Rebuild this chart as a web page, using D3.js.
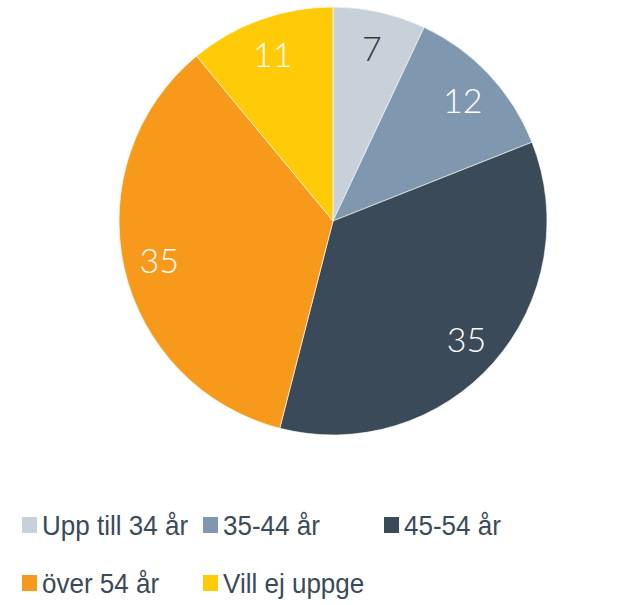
<!DOCTYPE html>
<html>
<head>
<meta charset="utf-8">
<script src="https://cdn.jsdelivr.net/npm/d3@7"></script>
<style>
  body { margin: 0; background: #fff; }
</style>
</head>
<body>
<svg></svg>
<script>
const categories = ["Upp till 34 år", "35-44 år", "45-54 år", "över 54 år", "Vill ej uppge"]
const values = [7, 12, 35, 35, 11]
const colors = ["#c8d1d9", "#7f98b0", "#3b4a59", "#f79a1b", "#ffcb08"]
const labelColors = ["#2e3a46", "#fff", "#fff", "#fff", "#fff"]

let width = 639,
    height = 605,
    centerX = 333,
    centerY = 221,
    radius = 214

const svg = d3.select("svg")
    .attr("width", width)
    .attr("height", height)

const pie = d3.pie().sort(null).value(d => d)
const arc = d3.arc().innerRadius(0).outerRadius(radius)
const labelArc = d3.arc().innerRadius(178).outerRadius(178)

const g = svg.append("g").attr("transform", `translate(${centerX},${centerY})`)

const arcs = pie(values)

g.selectAll("path")
    .data(arcs)
    .enter()
    .append("path")
    .attr("d", arc)
    .attr("fill", (d, i) => colors[i])
    .attr("stroke", "#fff")
    .attr("stroke-width", 0.6)

g.selectAll("text")
    .data(arcs)
    .enter()
    .append("text")
    .attr("transform", d => `translate(${labelArc.centroid(d)})`)
    .attr("text-anchor", "middle")
    .attr("dy", "0.4em")
    .style("font-family", "Lato, 'Open Sans', sans-serif")
    .style("font-weight", 300)
    .style("font-size", "34px")
    .attr("fill", (d, i) => labelColors[i])
    .text(d => d.data)

// legend
const legendPos = [[22, 535], [203, 535], [384, 535], [22, 593], [203, 593]]

const legend = svg.append("g")
categories.forEach((c, i) => {
    const [x, y] = legendPos[i]
    legend.append("rect")
        .attr("x", x)
        .attr("y", y - 18)
        .attr("width", 15)
        .attr("height", 16)
        .attr("fill", colors[i])
    legend.append("text")
        .attr("transform", `translate(${x + 20},${y}) scale(0.93,1)`)
        .style("font-family", "'Liberation Sans', Arial, sans-serif")
        .style("font-size", "28px")
        .attr("fill", "#3b4a59")
        .text(c)
})
</script>
</body>
</html>
